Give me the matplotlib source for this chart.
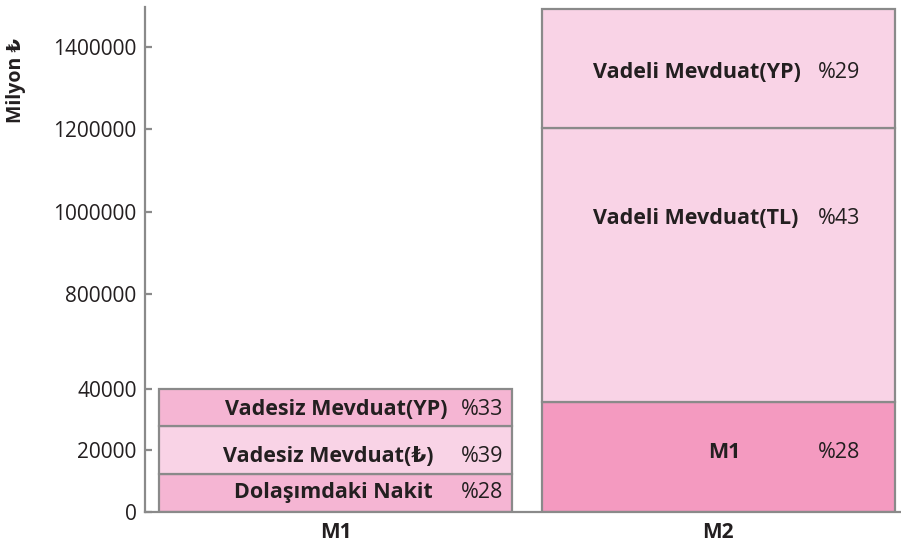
# M1 / M2 para arzı bileşenleri - kırık eksenli yığılmış sütun
import numpy as np
import matplotlib
matplotlib.use('Agg')
import matplotlib.pyplot as plt
from matplotlib.ticker import FixedLocator, FuncFormatter

plt.rcParams['font.family'] = ['Open Sans', 'DejaVu Sans']

categories = ['M1', 'M2']

m1_parts = ['Dolaşımdaki Nakit', 'Vadesiz Mevduat(₺)', 'Vadesiz Mevduat(YP)']
m1_values = [12400, 15600, 12000]
m1_pct = [28, 39, 33]

m2_parts = ['M1', 'Vadeli Mevduat(TL)', 'Vadeli Mevduat(YP)']
m2_values = [35800, 1167000, 289000]
m2_pct = [28, 43, 29]

y_ticks = [0, 20000, 40000, 800000, 1000000, 1200000, 1400000]

# etiketlerin dikey konumu (değer cinsinden)
m1_label_y = [6200, 18200, 33200]
m2_label_y = [19500, 984000, 1337000]

GRAY = '#8a8a8a'
MID = '#f5b5d3'
LIGHT = '#f9d3e6'
STRONG = '#f49ac0'
INK = '#231f20'

# kırık eksen: 0-40000 ve 800000 üstü farklı ölçekte
knot_v = np.array([0, 40000, 800000, 2000000], dtype=float)
knot_p = np.array([0, 123, 218, 218 + 6 * 82.3])


def fwd(v):
    return np.interp(v, knot_v, knot_p)


def inv(p):
    return np.interp(p, knot_p, knot_v)


fig = plt.figure(figsize=(9.01, 5.49), dpi=100)
ax = fig.add_axes([145 / 901, 1 - 512 / 549, 756 / 901, 505 / 549])
ax.set_yscale('function', functions=(fwd, inv))

width = 0.923
x = np.arange(len(categories))


def stack(xpos, values, colors):
    bottom = 0
    for v, c in zip(values, colors):
        ax.bar(xpos, v, width, bottom=bottom, color=c, edgecolor=GRAY,
               linewidth=1.6, zorder=2)
        bottom += v


stack(x[0], m1_values, [MID, LIGHT, MID])
stack(x[1], m2_values, [STRONG, LIGHT, LIGHT])

fs = 15.5
right1 = x[0] + width / 2
label_off1 = [-79, -79, -65]
for name, p, y, off in zip(m1_parts, m1_pct, m1_label_y, label_off1):
    ax.annotate(name, xy=(right1, y), xytext=(off, 0), textcoords='offset pixels',
                ha='right', va='center', fontsize=fs, fontweight='bold',
                color=INK, zorder=3)
    ax.annotate(f'%{p}', xy=(right1, y), xytext=(-9, 0), textcoords='offset pixels',
                ha='right', va='center', fontsize=fs, color=INK, zorder=3)

left2 = x[1] - width / 2
right2 = x[1] + width / 2
for name, p, y in zip(m2_parts, m2_pct, m2_label_y):
    if name == 'M1':
        ax.annotate(name, xy=(x[1], y), xytext=(6, 0), textcoords='offset pixels',
                    ha='center', va='center', fontsize=fs, fontweight='bold',
                    color=INK, zorder=3)
    else:
        ax.annotate(name, xy=(left2, y), xytext=(51, 0), textcoords='offset pixels',
                    ha='left', va='center', fontsize=fs, fontweight='bold',
                    color=INK, zorder=3)
    ax.annotate(f'%{p}', xy=(right2, y), xytext=(-34, 0), textcoords='offset pixels',
                ha='right', va='center', fontsize=fs, color=INK, zorder=3)

ax.set_xlim(-0.498, 1.478)
ax.set_ylim(0, 1497000)

ax.yaxis.set_major_locator(FixedLocator(y_ticks))
ax.yaxis.set_major_formatter(FuncFormatter(lambda v, pos: f'{int(round(v))}'))
ax.set_xticks(x)
ax.set_xticklabels(categories, fontweight='bold')

ax.tick_params(axis='y', direction='in', length=5, width=1.6, color=GRAY,
               labelsize=15, pad=6, labelcolor=INK)
ax.tick_params(axis='x', length=0, labelsize=15, pad=7, labelcolor=INK)

for side in ['top', 'right']:
    ax.spines[side].set_visible(False)
for side in ['left', 'bottom']:
    ax.spines[side].set_color(GRAY)
    ax.spines[side].set_linewidth(1.6)

ax.set_ylabel('Milyon ₺', fontsize=14, fontweight='bold', color=INK)
ax.yaxis.set_label_coords(-0.157, 0.855)

fig.savefig('out.png', dpi=100)
